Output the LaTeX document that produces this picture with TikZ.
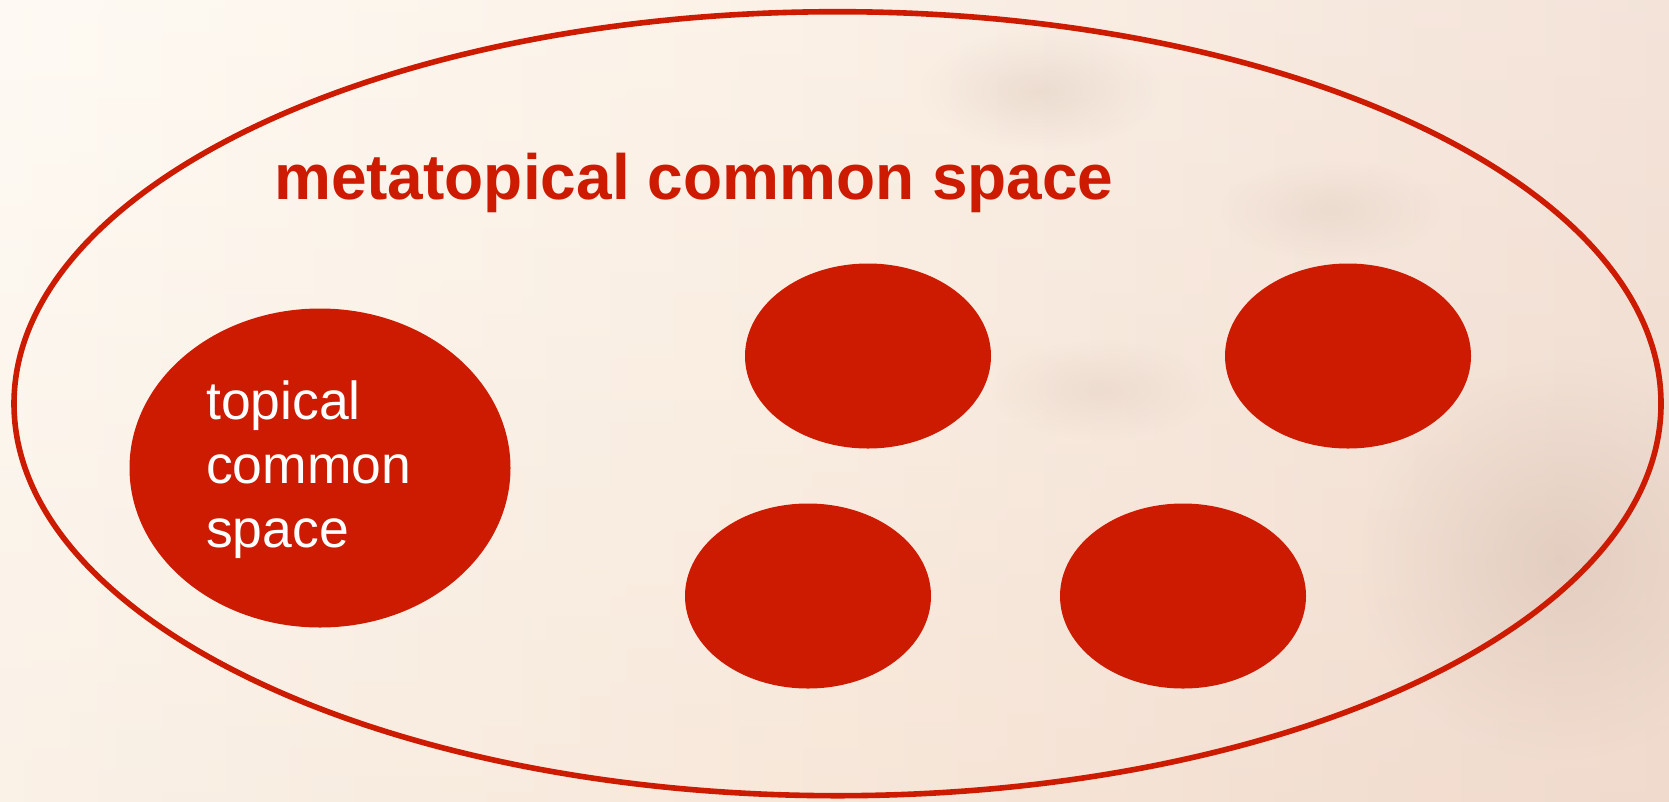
\documentclass[tikz,border=0pt]{standalone}
\usepackage{fontspec}
\setmainfont{Liberation Sans}
\usetikzlibrary{shapes.geometric,fadings}
\definecolor{accred}{RGB}{204,27,0}
\definecolor{bgA}{RGB}{254,249,240}
\definecolor{bgB}{RGB}{250,236,222}
\definecolor{bgC}{RGB}{240,218,205}
\definecolor{smudge}{RGB}{200,175,160}
\tikzfading[name=softblob, inner color=transparent!0, outer color=transparent!100]
\tikzset{
  blob/.style={ellipse, fill=accred, draw=none, inner sep=0pt},
  outer/.style={ellipse, draw=accred, line width=5.6pt, inner sep=0pt},
  haze/.style={fill=smudge, path fading=softblob},
}
\begin{document}
\begin{tikzpicture}[x=1pt,y=-1pt]
\useasboundingbox (0,0) rectangle (1669,801);
\shade[left color=bgA, right color=bgC, middle color=bgB] (0,0) rectangle (1669,801);
\shade[top color=white, bottom color=bgC, opacity=0.25] (0,0) rectangle (1669,801);
\fill[haze, opacity=0.35] (1560,560) ellipse (200 and 200);
\fill[haze, opacity=0.25] (1040,90) ellipse (120 and 60);
\fill[haze, opacity=0.2] (1100,390) ellipse (110 and 50);
\fill[haze, opacity=0.2] (1330,210) ellipse (110 and 50);
\node[outer, minimum width=1647pt, minimum height=784pt] (meta) at (837.5,403.7) {};
\node[blob, minimum width=381pt, minimum height=319pt] (topical) at (320,468) {};
\node[blob, minimum width=246pt, minimum height=185pt] (b1) at (868,356) {};
\node[blob, minimum width=246pt, minimum height=185pt] (b2) at (1348,356) {};
\node[blob, minimum width=246pt, minimum height=185pt] (b3) at (808,596) {};
\node[blob, minimum width=246pt, minimum height=185pt] (b4) at (1183,596) {};
\node[anchor=base west, inner sep=0pt, text=accred, font=\bfseries\fontsize{64}{70}\selectfont] (title) at (274,199) {metatopical common space};
\node[anchor=base west, inner sep=0pt, text=white, font=\fontsize{53.5}{62.5}\selectfont] (t1) at (206,419) {topical};
\node[anchor=base west, inner sep=0pt, text=white, font=\fontsize{53.5}{62.5}\selectfont] (t2) at (206,483) {common};
\node[anchor=base west, inner sep=0pt, text=white, font=\fontsize{53.5}{62.5}\selectfont] (t3) at (206,547) {space};
\end{tikzpicture}
\end{document}
